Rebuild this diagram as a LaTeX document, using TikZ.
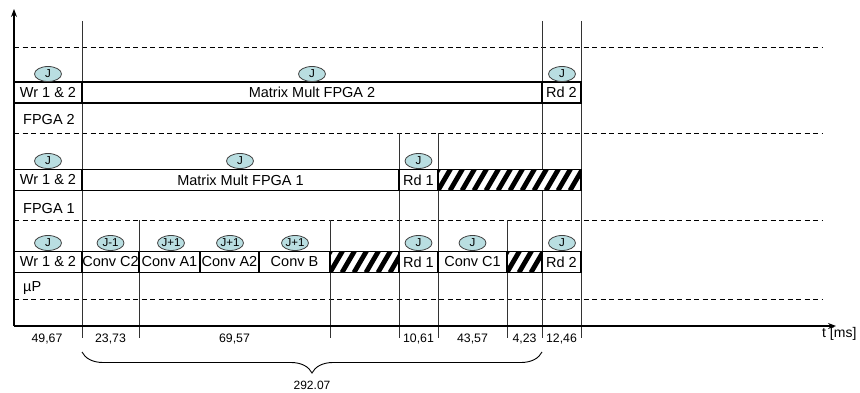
\documentclass[tikz,border=0pt]{standalone}
\usepackage{fontspec}
\setmainfont{Liberation Sans}
\usetikzlibrary{arrows.meta,decorations.pathreplacing,shapes.geometric}
\definecolor{jfill}{RGB}{185,222,225}
\begin{document}
\begin{tikzpicture}[x=1pt,y=-1pt,
  lbl/.style={inner sep=0pt,anchor=base west,font=\fontsize{14.5}{16}\selectfont},
  num/.style={inner sep=0pt,anchor=base,font=\fontsize{12.3}{14}\selectfont},
  box/.style={draw=black,line width=1.1pt,fill=white,inner sep=0pt,minimum height=21pt,font=\fontsize{14.5}{16}\selectfont},
  hatchbox/.style={box,path picture={\foreach \k in {-3,...,16}{\draw[line width=4.8pt] ([xshift=\k*12pt]path picture bounding box.south west) -- ++(14pt,24pt);}}},
  jell/.style={ellipse,draw=black!75,line width=0.8pt,fill=jfill,minimum width=27pt,minimum height=15pt,inner sep=0pt,font=\fontsize{11.5}{12}\selectfont},
  dline/.style={draw=black,line width=0.9pt,dash pattern=on 5pt off 3.5pt},
  vline/.style={draw=black!80,line width=0.9pt},
  axis/.style={draw=black,line width=1.2pt}]
\useasboundingbox (0,0) rectangle (860,393);
% dashed separators
\foreach \yy/\nm in {47/a,133.5/b,220/c,299/d}{
  \coordinate (d\nm l) at (14,\yy);
  \coordinate (d\nm r) at (822,\yy);
  \draw[dline] (d\nm l) -- (d\nm r);
}
% vertical time lines
\foreach \xx/\yt in {82/21,542/21,581/21,399/133.5,438/133.5,139/220,330/220,507/220}{
  \coordinate (vt\xx) at (\xx,\yt);
  \coordinate (vb\xx) at (\xx,338);
  \draw[vline] (vt\xx) -- (vb\xx);
}
% axes
\coordinate (origin) at (14,326);
\coordinate (ytop) at (14,9);
\coordinate (xend) at (836,326);
\draw[axis,-{Stealth[length=8pt,width=6pt]}] (origin) -- (ytop);
\draw[axis,-{Stealth[length=8pt,width=6pt]}] (origin) -- (xend);
\node[inner sep=0pt,anchor=base west,font=\fontsize{14}{16}\selectfont] (tms) at (822,337) {t [ms]};
% Row FPGA 2
\node[box,minimum width=68pt] (r1a) at (48,92.5) {Wr 1 \& 2};
\node[box,minimum width=460pt] (r1b) at (312,92.5) {Matrix Mult FPGA 2};
\node[box,minimum width=39pt] (r1c) at (561.5,92.5) {Rd 2};
\node[jell] (j1a) at (48,74) {J};
\node[jell] (j1b) at (312,74) {J};
\node[jell] (j1c) at (562,74) {J};
\node[lbl] (f2) at (23,125) {FPGA 2};
% Row FPGA 1
\node[box,minimum width=68pt] (r2a) at (48,180) {Wr 1 \& 2};
\node[box,minimum width=317pt] (r2b) at (240.5,180) {Matrix Mult FPGA 1};
\node[box,minimum width=39pt] (r2c) at (418.5,180) {Rd 1};
\node[hatchbox,minimum width=143pt] (r2d) at (509.5,180) {};
\node[jell] (j2a) at (48,161) {J};
\node[jell] (j2b) at (240,161) {J};
\node[jell] (j2c) at (418.5,161) {J};
\node[lbl] (f1) at (23,213) {FPGA 1};
% Row uP
\node[box,minimum width=68pt] (r3a) at (48,262) {Wr 1 \& 2};
\node[box,minimum width=57pt] (r3b) at (110.5,262) {Conv C2};
\node[box,minimum width=61pt] (r3c) at (169.5,262) {Conv A1};
\node[box,minimum width=59pt] (r3d) at (229.5,262) {Conv A2};
\node[box,minimum width=71pt] (r3e) at (294.5,262) {Conv B};
\node[hatchbox,minimum width=69pt] (r3f) at (364.5,262) {};
\node[box,minimum width=39pt] (r3g) at (418.5,262) {Rd 1};
\node[box,minimum width=69pt] (r3h) at (472.5,262) {Conv C1};
\node[hatchbox,minimum width=35pt] (r3i) at (524.5,262) {};
\node[box,minimum width=39pt] (r3j) at (561.5,262) {Rd 2};
\node[jell] (j3a) at (48,243) {J};
\node[jell] (j3b) at (110.5,243) {J-1};
\node[jell] (j3c) at (171,243) {J+1};
\node[jell] (j3d) at (230,243) {J+1};
\node[jell] (j3e) at (295,243) {J+1};
\node[jell] (j3f) at (418.5,243) {J};
\node[jell] (j3g) at (472.5,243) {J};
\node[jell] (j3h) at (562,243) {J};
\node[lbl] (up) at (23,291) {µP};
% durations
\node[num] (n1) at (47,342) {49,67};
\node[num] (n2) at (110.5,342) {23,73};
\node[num] (n3) at (234.5,342) {69,57};
\node[num] (n4) at (418.5,342) {10,61};
\node[num] (n5) at (472.5,342) {43,57};
\node[num] (n6) at (524.5,342) {4,23};
\node[num] (n7) at (561.5,342) {12,46};
% brace
\coordinate (bl) at (82,352);
\coordinate (br) at (542,352);
\draw[line width=0.9pt,decorate,decoration={brace,mirror,amplitude=21pt}] (bl) -- (br);
\node[num,font=\fontsize{12}{14}\selectfont] (tot) at (312,389) {292.07};
\end{tikzpicture}
\end{document}
